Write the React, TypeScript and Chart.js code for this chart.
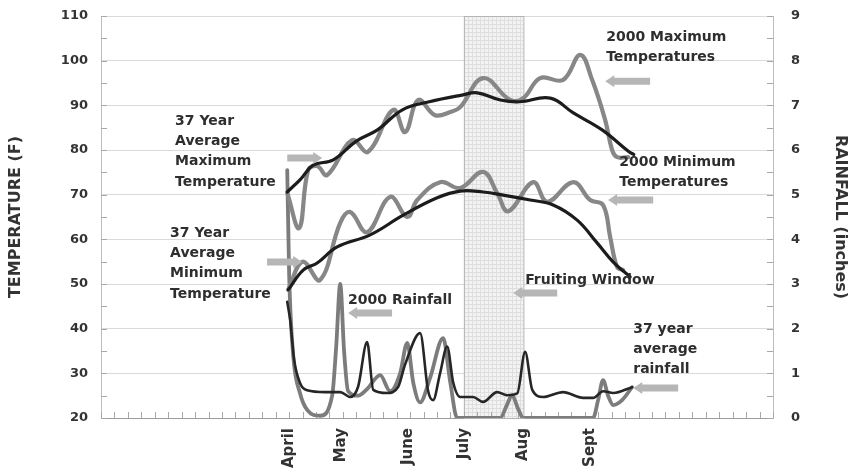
import React, { useEffect, useRef } from "react";
import { Chart, registerables } from "chart.js";

Chart.register(...registerables);

// ---------------- data ----------------
// x axis: days counted from April 1 (weekly minor ticks)
const X_MIN = -98;
const X_MAX = 252;
const WEEK = 7;

const monthLabels = ["April", "May", "June", "July", "Aug", "Sept"];
const monthDays = [0, 27, 62, 91, 122, 157];
const fruitingWindow = [91, 122];

const TEMP_MIN = 20;
const TEMP_MAX = 110;
const TEMP_STEP = 10;
const RAIN_MIN = 0;
const RAIN_MAX = 9;
const RAIN_STEP = 1;

// 37 year average maximum temperature
const avgMaxDays = [-1, 6, 12.5, 23, 35, 46, 59, 73, 90, 98, 110, 120, 136, 148, 163, 177, 179.5];
const avgMaxTemps = [70.6, 73.5, 76.6, 77.8, 82, 84.5, 89, 90.8, 92.3, 92.8, 91.2, 90.8, 91.6, 88.3, 84.5, 79.6, 79.0];

// 2000 maximum temperatures
const max2000Days = [-1, 5.2, 9.9, 14.6, 19.8, 32.8, 41.1, 54.2, 60.4, 67.2, 76, 83.9, 89.1, 101, 115.1, 121.9, 130.7, 142.7, 151.6, 157.8, 164.6, 168.2, 170.8, 176.6];
const max2000Temps = [70.4, 62.5, 75.5, 76.4, 74.4, 82.2, 79.6, 89.0, 84.0, 91.2, 87.8, 88.5, 89.6, 96.1, 91.2, 91.6, 96.1, 95.7, 101.3, 95.7, 86.7, 80.0, 78.4, 78.4];

// 37 year average minimum temperature
const avgMinDays = [-0.5, 7.3, 14.6, 25, 42.2, 59.4, 77.1, 89.1, 101, 111.5, 125.5, 137.5, 150, 160.4, 168.8, 177.6];
const avgMinTemps = [48.7, 53.1, 54.7, 58.3, 61.0, 65.4, 69.3, 70.8, 70.6, 69.9, 68.8, 67.7, 64.3, 59.2, 54.9, 51.6];

// 2000 minimum temperatures
const min2000Days = [-0.5, 7, 16.1, 26.6, 31.8, 40.6, 52.6, 61.5, 66.7, 78.6, 89.1, 101, 108.3, 114.1, 127.1, 134.4, 148, 156.8, 163.5, 167.2, 170.8, 174];
const min2000Temps = [48.7, 55.0, 50.9, 63.7, 66.1, 61.6, 69.5, 65.0, 68.8, 72.8, 71.5, 75.1, 70.4, 66.3, 72.8, 68.4, 72.8, 68.8, 67.7, 60.5, 53.8, 53.1];

// 2000 rainfall (inches)
const rain2000Days = [-1, 0, 2.1, 5.7, 9.4, 16.1, 22.4, 24.5, 26.6, 28.6, 30.7, 35.9, 40.6, 47.4, 52.6, 57.8, 61.5, 64.6, 68.2, 73.4, 80.2, 83.9, 87.5, 109.9, 113.5, 116.1, 119.3, 121.9, 158.3, 160.9, 163.5, 166.1, 168.8, 173.4, 178.6];
const rain2000Values = [5.55, 3.2, 1.4, 0.55, 0.18, 0.05, 0.5, 1.6, 3.0, 1.5, 0.6, 0.5, 0.65, 0.96, 0.6, 1.0, 1.68, 0.8, 0.35, 0.9, 1.79, 0.8, 0, 0, 0.3, 0.51, 0.2, 0, 0, 0.4, 0.85, 0.5, 0.29, 0.4, 0.69];

// 37 year average rainfall (inches)
const avgRainDays = [-1, 0.5, 2.6, 5.7, 9.4, 18.8, 26.6, 31.8, 35.9, 40.6, 43.8, 51, 56.8, 60.4, 68.2, 72.4, 75, 78.6, 82.3, 85.4, 89.1, 95.8, 101, 108.3, 113.5, 118.8, 122.9, 126.6, 132.3, 142.7, 153.1, 158.3, 163.5, 168.8, 178.6];
const avgRainValues = [2.6, 2.2, 1.3, 0.78, 0.62, 0.58, 0.58, 0.47, 0.7, 1.7, 0.63, 0.56, 0.7, 1.2, 1.9, 0.6, 0.4, 1.0, 1.6, 0.8, 0.47, 0.47, 0.36, 0.58, 0.51, 0.55, 1.48, 0.63, 0.47, 0.58, 0.45, 0.45, 0.6, 0.56, 0.69];

// annotation texts (anchored in data coordinates: day, temperature)
const noteAvgMax = ["37 Year", "Average", "Maximum", "Temperature"];
const noteAvgMin = ["37 Year", "Average", "Minimum", "Temperature"];
const noteMax2000 = ["2000 Maximum", "Temperatures"];
const noteMin2000 = ["2000 Minimum", "Temperatures"];
const noteRain2000 = ["2000 Rainfall"];
const noteFruiting = ["Fruiting Window"];
const noteAvgRain = ["37 year", "average", "rainfall"];

const FONT = '"DejaVu Sans", "Liberation Sans", sans-serif';

const pairs = (xs: number[], ys: number[]) => xs.map((x, i) => ({ x, y: ys[i] }));

export default function App() {
  const ref = useRef<HTMLCanvasElement | null>(null);

  useEffect(() => {
    const canvas = ref.current;
    if (!canvas) return;

    // dotted grid pattern for the fruiting window
    const pc = document.createElement("canvas");
    pc.width = 4;
    pc.height = 4;
    const pctx = pc.getContext("2d")!;
    pctx.fillStyle = "#f3f3f3";
    pctx.fillRect(0, 0, 4, 4);
    pctx.fillStyle = "#dedede";
    pctx.fillRect(0, 0, 4, 1);
    pctx.fillRect(0, 0, 1, 4);

    const notes = [
      { lines: noteAvgMax, x: -59.4, y: 86.5 },
      { lines: noteAvgMin, x: -62, y: 61.4 },
      { lines: noteMax2000, x: 165.1, y: 105.3 },
      { lines: noteMin2000, x: 171.9, y: 77.3 },
      { lines: noteRain2000, x: 30.7, y: 46.4 },
      { lines: noteFruiting, x: 122.9, y: 50.9 },
      { lines: noteAvgRain, x: 179.2, y: 39.9 },
    ];
    const arrows = [
      { head: 17.2, tail: -1, y: 78.2 },
      { head: 6.8, tail: -11.5, y: 54.9 },
      { head: 164.6, tail: 188, y: 95.4 },
      { head: 166.1, tail: 189.6, y: 68.8 },
      { head: 30.7, tail: 53.6, y: 43.5 },
      { head: 116.7, tail: 139.6, y: 48.0 },
      { head: 179.2, tail: 202.6, y: 26.7 },
    ];

    const decor = {
      id: "decor",
      beforeDatasetsDraw(chart: any) {
        const { ctx, chartArea } = chart;
        const xs = chart.scales.x;
        const ys = chart.scales.y;
        const y1 = chart.scales.y1;
        ctx.save();
        // fruiting window
        const x0 = xs.getPixelForValue(fruitingWindow[0]);
        const x1 = xs.getPixelForValue(fruitingWindow[1]);
        ctx.fillStyle = ctx.createPattern(pc, "repeat");
        ctx.fillRect(x0, chartArea.top, x1 - x0, chartArea.bottom - chartArea.top);
        ctx.strokeStyle = "#b4b4b4";
        ctx.lineWidth = 1;
        ctx.strokeRect(x0 + 0.5, chartArea.top + 0.5, x1 - x0, chartArea.bottom - chartArea.top);
        // minor tick marks (inside)
        ctx.strokeStyle = "#a8a8a8";
        ctx.lineWidth = 1;
        ctx.beginPath();
        for (let d = X_MIN; d <= X_MAX + 0.01; d += WEEK) {
          const px = Math.round(xs.getPixelForValue(d)) + 0.5;
          ctx.moveTo(px, chartArea.bottom);
          ctx.lineTo(px, chartArea.bottom - 6);
        }
        for (let t = TEMP_MIN; t <= TEMP_MAX; t += TEMP_STEP / 2) {
          const py = Math.round(ys.getPixelForValue(t)) + 0.5;
          ctx.moveTo(chartArea.left, py);
          ctx.lineTo(chartArea.left + 6, py);
        }
        for (let r = RAIN_MIN; r <= RAIN_MAX; r += RAIN_STEP / 2) {
          const py = Math.round(y1.getPixelForValue(r)) + 0.5;
          ctx.moveTo(chartArea.right, py);
          ctx.lineTo(chartArea.right - 6, py);
        }
        ctx.stroke();
        ctx.restore();
      },
      afterDatasetsDraw(chart: any) {
        const { ctx } = chart;
        const xs = chart.scales.x;
        const ys = chart.scales.y;
        ctx.save();
        // arrows
        ctx.fillStyle = "#b6b6b6";
        for (const a of arrows) {
          const hx = xs.getPixelForValue(a.head);
          const tx = xs.getPixelForValue(a.tail);
          const py = ys.getPixelForValue(a.y);
          const dir = tx > hx ? 1 : -1;
          const hl = 9;
          ctx.beginPath();
          ctx.moveTo(hx, py);
          ctx.lineTo(hx + dir * hl, py - 6);
          ctx.lineTo(hx + dir * hl, py - 3.5);
          ctx.lineTo(tx, py - 3.5);
          ctx.lineTo(tx, py + 3.5);
          ctx.lineTo(hx + dir * hl, py + 3.5);
          ctx.lineTo(hx + dir * hl, py + 6);
          ctx.closePath();
          ctx.fill();
        }
        // texts
        ctx.fillStyle = "#2e2e2e";
        ctx.font = `bold 14px ${FONT}`;
        ctx.textAlign = "left";
        ctx.textBaseline = "middle";
        for (const n of notes) {
          const px = xs.getPixelForValue(n.x);
          const py = ys.getPixelForValue(n.y);
          n.lines.forEach((s, i) => ctx.fillText(s, px, py + i * 20.3));
        }
        ctx.restore();
      },
    };

    const black = "#1c1c1c";
    const gray = "#878787";

    const chart = new Chart(canvas, {
      type: "line",
      data: {
        datasets: [
          { label: "37 Year Average Maximum Temperature", data: pairs(avgMaxDays, avgMaxTemps), yAxisID: "y", borderColor: black, borderWidth: 3.2, tension: 0.4 },
          { label: "37 Year Average Minimum Temperature", data: pairs(avgMinDays, avgMinTemps), yAxisID: "y", borderColor: black, borderWidth: 3.2, tension: 0.4 },
          { label: "37 year average rainfall", data: pairs(avgRainDays, avgRainValues), yAxisID: "y1", borderColor: "#262626", borderWidth: 2.6, cubicInterpolationMode: "monotone" },
          { label: "2000 Maximum Temperatures", data: pairs(max2000Days, max2000Temps), yAxisID: "y", borderColor: gray, borderWidth: 4.2, tension: 0.4 },
          { label: "2000 Minimum Temperatures", data: pairs(min2000Days, min2000Temps), yAxisID: "y", borderColor: gray, borderWidth: 4.2, tension: 0.4 },
          { label: "2000 Rainfall", data: pairs(rain2000Days, rain2000Values), yAxisID: "y1", borderColor: "#7c7c7c", borderWidth: 3.8, cubicInterpolationMode: "monotone" },
        ] as any,
      },
      options: {
        responsive: false,
        animation: false,
        events: [],
        layout: { padding: { top: 16, left: 0, right: 0, bottom: 0 } },
        elements: { point: { radius: 0 }, line: { borderCapStyle: "round", borderJoinStyle: "round", fill: false } },
        plugins: { legend: { display: false }, tooltip: { enabled: false } },
        scales: {
          x: {
            type: "linear",
            position: "bottom",
            min: X_MIN,
            max: X_MAX,
            afterBuildTicks: (s: any) => {
              s.ticks = monthDays.map((v) => ({ value: v }));
            },
            afterFit: (s: any) => {
              s.height = 57;
              s.paddingLeft = 0;
              s.paddingRight = 0;
            },
            ticks: {
              autoSkip: false,
              minRotation: 90,
              maxRotation: 90,
              padding: 10,
              color: "#333",
              font: { family: FONT, size: 15, weight: "bold" },
              callback: (_v: any, i: number) => monthLabels[i] ?? "",
            },
            grid: { display: false, drawTicks: false },
            border: { display: true, color: "#9c9c9c", width: 1 },
          },
          y: {
            position: "left",
            min: TEMP_MIN,
            max: TEMP_MAX,
            afterFit: (s: any) => {
              s.width = 101;
              s.paddingTop = 8;
              s.paddingBottom = 8;
            },
            ticks: { stepSize: TEMP_STEP, padding: 13, color: "#333", font: { family: FONT, size: 13, weight: "bold" } },
            grid: { color: "#dadada", drawTicks: false, lineWidth: 1 },
            border: { color: "#bdbdbd" },
            title: { display: true, text: "TEMPERATURE (F)", color: "#333", padding: { top: 6, bottom: 0 }, font: { family: FONT, size: 16, weight: "bold" } },
          },
          y1: {
            position: "right",
            min: RAIN_MIN,
            max: RAIN_MAX,
            afterFit: (s: any) => {
              s.width = 83;
              s.paddingTop = 8;
              s.paddingBottom = 8;
            },
            ticks: { stepSize: RAIN_STEP, padding: 18, color: "#333", font: { family: FONT, size: 13, weight: "bold" } },
            grid: { drawOnChartArea: false, drawTicks: false },
            border: { color: "#bdbdbd" },
            title: { display: true, text: "RAINFALL (inches)", color: "#333", padding: { top: 6, bottom: 0 }, font: { family: FONT, size: 16, weight: "bold" } },
          },
        },
      } as any,
      plugins: [decor],
    });

    return () => chart.destroy();
  }, []);

  return (
    <div style={{ position: "absolute", left: 0, top: 0, width: 856, height: 475, background: "#fff" }}>
      <canvas ref={ref} width={856} height={475} style={{ width: 856, height: 475, display: "block" }} />
    </div>
  );
}
